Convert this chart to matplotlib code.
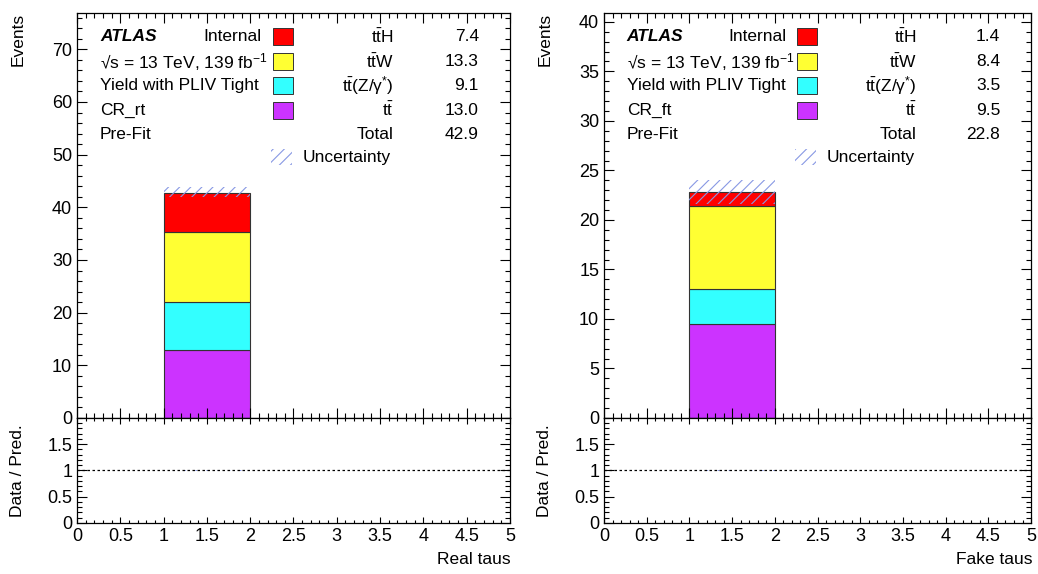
import matplotlib.pyplot as plt
from matplotlib.patches import Rectangle
from matplotlib.ticker import MultipleLocator, FormatStrFormatter

plt.rcParams["font.family"] = ["Liberation Sans", "DejaVu Sans"]
plt.rcParams["mathtext.fontset"] = "custom"
plt.rcParams["mathtext.rm"] = "Liberation Sans"
plt.rcParams["mathtext.it"] = "Liberation Sans:italic"
plt.rcParams["mathtext.bf"] = "Liberation Sans:bold"
plt.rcParams["hatch.linewidth"] = 0.8

# ---------------- DATA ----------------
sample_labels = [r"$\mathrm{t\bar{t}H}$", r"$\mathrm{t\bar{t}W}$",
                 r"$\mathrm{t\bar{t}}$(Z/γ$^{*}$)", r"$\mathrm{t\bar{t}}$"]
sample_colors = ["#ff0000", "#ffff33", "#33ffff", "#cc33ff"]

region_names = ["CR_rt", "CR_ft"]
x_titles = ["Real taus", "Fake taus"]
bin_edges = [1, 2]

real_yields = [7.4, 13.3, 9.1, 13.0]   # ttH, ttW, ttZ, ttbar
fake_yields = [1.4, 8.4, 3.5, 9.5]
totals = [42.9, 22.8]
uncertainties = [1.0, 1.2]
ymax = [76.9, 40.9]
ymajor = [10, 5]
yminor = [2, 1]

HATCH_COLOR = "#8898e4"

# ---------------- LAYOUT ----------------
fig = plt.figure(figsize=(10.38, 5.74), dpi=100)
lefts = [0.0742, 0.5819]
widths = [0.4171, 0.4114]
main_bottom, main_h = 0.2718, 0.7056
ratio_bottom, ratio_h = 0.0889, 0.1829

rows_y = [0.941, 0.879, 0.820, 0.760, 0.701, 0.644]


def style_ticks(ax):
    ax.tick_params(which="both", direction="in", top=True, right=True,
                   labelsize=13, width=0.8, colors="black")
    ax.tick_params(which="major", length=7)
    ax.tick_params(which="minor", length=3.5)
    for s in ax.spines.values():
        s.set_linewidth(0.9)


for i, yields in enumerate([real_yields, fake_yields]):
    ax = fig.add_axes([lefts[i], main_bottom, widths[i], main_h])
    rax = fig.add_axes([lefts[i], ratio_bottom, widths[i], ratio_h], sharex=ax)

    # stacked histogram (bottom: ttbar)
    bottom = 0.0
    for j in reversed(range(len(yields))):
        ax.bar(bin_edges[0], yields[j], width=bin_edges[1] - bin_edges[0],
               bottom=bottom, align="edge", color=sample_colors[j],
               edgecolor="#333333", linewidth=0.8)
        bottom += yields[j]

    # uncertainty band
    ax.bar(bin_edges[0], 2 * uncertainties[i], width=1,
           bottom=totals[i] - uncertainties[i], align="edge",
           fill=False, hatch="///", edgecolor=HATCH_COLOR, linewidth=0)
    rel = uncertainties[i] / totals[i]
    rax.bar(bin_edges[0], 2 * rel * 0.05, width=1, bottom=1 - rel * 0.05,
            align="edge", fill=False, hatch="///", edgecolor=HATCH_COLOR,
            linewidth=0)

    ax.set_xlim(0, 5)
    ax.set_ylim(0, ymax[i])
    ax.yaxis.set_major_locator(MultipleLocator(ymajor[i]))
    ax.yaxis.set_minor_locator(MultipleLocator(yminor[i]))
    ax.xaxis.set_major_locator(MultipleLocator(0.5))
    ax.xaxis.set_minor_locator(MultipleLocator(0.1))
    style_ticks(ax)
    ax.tick_params(labelbottom=False)

    rax.set_ylim(0, 2)
    rax.set_yticks([0, 0.5, 1, 1.5])
    rax.yaxis.set_minor_locator(MultipleLocator(0.1))
    rax.yaxis.set_major_formatter(FormatStrFormatter("%g"))
    rax.xaxis.set_major_formatter(FormatStrFormatter("%g"))
    rax.axhline(1, color="black", linestyle=(0, (2, 2)), linewidth=0.9)
    style_ticks(rax)
    rax.tick_params(axis="x", which="major", length=4)
    rax.tick_params(axis="x", which="minor", length=2)

    # legend / labels
    fs = 12.5
    ax.text(0.053, rows_y[0], "ATLAS", transform=ax.transAxes, fontsize=fs,
            fontweight="bold", fontstyle="italic", va="center")
    ax.text(0.427, rows_y[0], "Internal", transform=ax.transAxes,
            fontsize=fs, ha="right", va="center")
    left_texts = ["√s = 13 TeV, 139 fb$^{-1}$", "Yield with PLIV Tight",
                  region_names[i], "Pre-Fit"]
    for k, t in enumerate(left_texts):
        ax.text(0.053, rows_y[k + 1], t, transform=ax.transAxes,
                fontsize=fs, va="center")
    for k in range(len(yields)):
        ax.add_patch(Rectangle((0.453, rows_y[k] - 0.021), 0.046, 0.042,
                               transform=ax.transAxes,
                               facecolor=sample_colors[k],
                               edgecolor="#333333", linewidth=0.7))
        ax.text(0.732, rows_y[k], sample_labels[k], transform=ax.transAxes,
                fontsize=fs, ha="right", va="center")
        ax.text(0.928, rows_y[k], f"{yields[k]:.1f}", transform=ax.transAxes,
                fontsize=fs, ha="right", va="center")
    ax.text(0.732, rows_y[4], "Total", transform=ax.transAxes,
            fontsize=fs, ha="right", va="center")
    ax.text(0.928, rows_y[4], f"{totals[i]:.1f}", transform=ax.transAxes,
            fontsize=fs, ha="right", va="center")
    ax.add_patch(Rectangle((0.447, rows_y[5] - 0.02), 0.05, 0.04,
                           transform=ax.transAxes, fill=False, hatch="///",
                           edgecolor=HATCH_COLOR, linewidth=0))
    ax.text(0.522, rows_y[5], "Uncertainty", transform=ax.transAxes,
            fontsize=fs, ha="left", va="center")

    # axis titles
    fig.text(lefts[i] - 0.057, 0.977, "Events", rotation=90, fontsize=12.5,
             ha="center", va="top")
    fig.text(lefts[i] - 0.057, ratio_bottom + ratio_h / 2, "Data / Pred.",
             rotation=90, fontsize=12.5, ha="center", va="center")
    fig.text(lefts[i] + widths[i] + 0.001, 0.012, x_titles[i], fontsize=12.5,
             ha="right", va="bottom")

fig.savefig("out.png", dpi=100)
